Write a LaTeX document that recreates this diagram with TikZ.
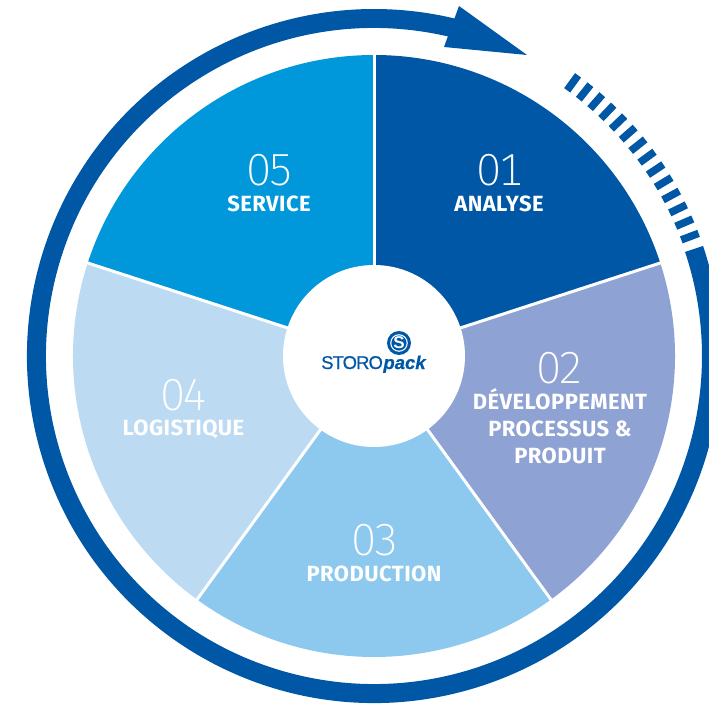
\documentclass[tikz,border=0pt]{standalone}
\usepackage{fontspec}
\setmainfont{Fira Sans}
\newfontfamily\numfont[Numbers=Monospaced,LetterSpace=-7]{Fira Sans ExtraLight}
\newfontfamily\titlefont[LetterSpace=2]{Fira Sans Bold}
\newfontfamily\logofont{Liberation Sans}
\definecolor{ringblue}{HTML}{0057A5}
\definecolor{segtwo}{HTML}{8FA2D4}
\definecolor{segthree}{HTML}{8DC8EE}
\definecolor{segfour}{HTML}{BDDAF3}
\definecolor{segfive}{HTML}{0098DB}
\tikzset{
  numlabel/.style={text=white,font=\numfont\fontsize{45}{45}\selectfont,inner sep=0pt,anchor=center},
  titlelabel/.style={text=white,font=\titlefont\fontsize{22}{27}\selectfont,inner sep=0pt,align=center,anchor=center},
}
\begin{document}
\begin{tikzpicture}[x=1pt,y=1pt]
\useasboundingbox (-374,-348) rectangle (335,356);
\clip (-374,-348) rectangle (335,356);
% wedges
\foreach \a/\b/\c in {90/18/ringblue,18/-54/segtwo,-54/-126/segthree,-126/-198/segfour,162/90/segfive}{
  \fill[\c] (0,0) -- (\a:301pt) arc[start angle=\a,end angle=\b,radius=301pt] -- cycle;
}
\foreach \a in {90,18,-54,-126,162}{
  \draw[white,line width=3pt] (0,0) -- (\a:303pt);
}
\node[circle,fill=white,minimum size=182pt,inner sep=0pt] (hub) at (0,0) {};
% ring with arrow
\fill[ringblue] (18.5:347pt) arc[start angle=18.5,end angle=-283.5,radius=347pt]
  -- (-283.5:328pt) arc[start angle=-283.5,end angle=18.5,radius=328pt] -- cycle;
\fill[ringblue] (153,301) -- (85,350) -- (70,309) -- cycle;
% dashes
\foreach \i in {0,...,13}{
  \pgfmathsetmacro{\ang}{20.7+\i*2.56}
  \draw[ringblue,line width=7.5pt] (\ang:328.5pt) -- (\ang:347pt);
}
% labels
\node[numlabel] (n1) at (126,186) {01};
\node[titlelabel] (t1) at (125,152.5) {ANALYSE};
\node[numlabel] (n2) at (186,-12) {02};
\node[titlelabel] (t2) at (186,-70.3) {DÉVELOPPEMENT\\PROCESSUS \&\\PRODUIT};
\node[numlabel] (n3) at (1,-184) {03};
\node[titlelabel] (t3) at (0,-217.5) {PRODUCTION};
\node[numlabel] (n4) at (-190,-39) {04};
\node[titlelabel] (t4) at (-190.5,-73.5) {LOGISTIQUE};
\node[numlabel] (n5) at (-104,186) {05};
\node[titlelabel] (t5) at (-105,152.5) {SERVICE};
% logo
\fill[ringblue] (25,13) circle (12pt);
\fill[white] (25,13) circle (8.8pt);
\fill[ringblue] (25,13) circle (7.6pt);
\node[text=white,font=\logofont\bfseries\fontsize{17}{17}\selectfont,inner sep=0pt] (logos) at (25,13) {S};
\node[text=ringblue,font=\logofont\fontsize{18.5}{18.5}\selectfont,inner sep=0pt,anchor=base west] (logot) at (-53,-13)
  {\addfontfeature{LetterSpace=-5,FakeBold=0.6}STORO\kern0.5pt{\bfseries\itshape\addfontfeature{LetterSpace=0,FakeBold=0.8}pack}};
\end{tikzpicture}
\end{document}
